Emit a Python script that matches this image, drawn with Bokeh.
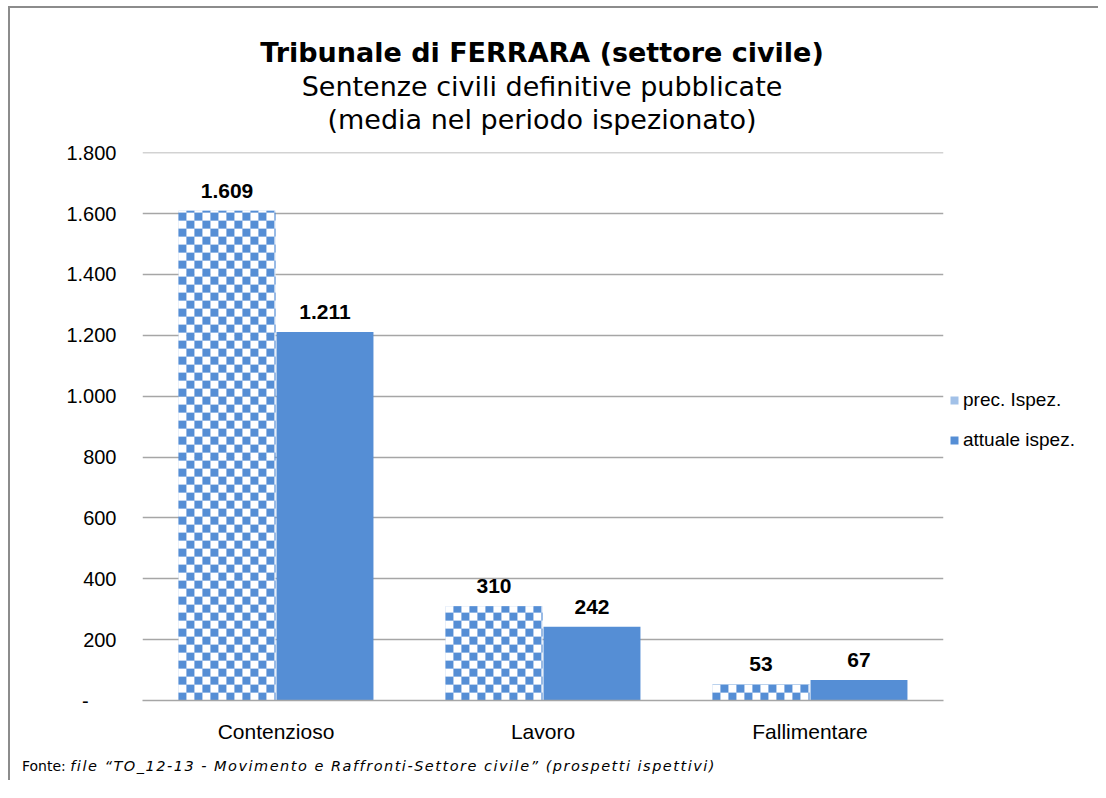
import math
from bokeh.plotting import figure
from bokeh.layouts import column, row
from bokeh.models import (ColumnDataSource, FactorRange, Range1d, LabelSet, Legend, LegendItem,
                          CustomJSTickFormatter, FixedTicker, Div)
from bokeh.transform import dodge
from bokeh.core.properties import value
from bokeh.embed import file_html
from bokeh.resources import INLINE

categories = ["Contenzioso", "Lavoro", "Fallimentare"]
prec_ispez = [1609, 310, 53]
attuale_ispez = [1211, 242, 67]
series_names = ["prec. Ispez.", "attuale ispez."]
y_ticks = [0, 200, 400, 600, 800, 1000, 1200, 1400, 1600, 1800]

title_1 = "Tribunale di FERRARA (settore civile)"
title_2 = "Sentenze civili definitive pubblicate"
title_3 = "(media nel periodo ispezionato)"
footer_1 = "Fonte:"
footer_2 = "file \u201cTO_12-13 - Movimento e Raffronti-Settore civile\u201d (prospetti ispettivi)"

BLUE = "#558ED5"
GRID = "#a6a6a6"
Y_MAX = 1800.5


def it_fmt(v):
    return f"{v:,}".replace(",", ".")


source = ColumnDataSource(dict(
    cat=categories,
    prec=prec_ispez,
    att=attuale_ispez,
    prec_lbl=[it_fmt(v) for v in prec_ispez],
    att_lbl=[it_fmt(v) for v in attuale_ispez],
))

# ---- layout geometry (pixels) ----
ML, MT, MR, MB = 132, 16, 5, 50
FRAME_W, FRAME_H = 801, 548
W, H = ML + FRAME_W + MR, MT + FRAME_H + MB
LEG_W = 150

p = figure(x_range=FactorRange(*categories), y_range=Range1d(0, Y_MAX),
           width=W, height=H, output_backend="svg", toolbar_location=None,
           min_border_left=ML, min_border_right=MR, min_border_top=MT, min_border_bottom=MB)
p.outline_line_color = None

OFF = 0.1835
BW = 0.363
bar_style_prec = dict(fill_color=BLUE, fill_alpha=0.55, line_color=None)
bar_style_att = dict(fill_color=BLUE, line_color=None)
p.vbar(x=dodge("cat", -OFF, range=p.x_range), top="prec", width=BW, source=source, **bar_style_prec)
p.vbar(x=dodge("cat", OFF, range=p.x_range), top="att", width=BW, source=source, **bar_style_att)

# checkerboard fill of the "prec. Ispez." bars (8px cells), derived from the bar values
CELL = 8
dx = CELL / (FRAME_W / len(categories))
dy = CELL * Y_MAX / FRAME_H
cl, cr, cb, ct, cc = [], [], [], [], []
for i, v in enumerate(prec_ispez):
    left = i + 0.5 - OFF - BW / 2
    right = left + BW
    ncol = math.ceil(BW / dx - 1e-9)
    nrow = math.ceil(v / dy - 1e-9)
    for j in range(ncol):
        for k in range(nrow):
            cl.append(left + j * dx)
            cr.append(min(left + (j + 1) * dx, right))
            cb.append(k * dy)
            ct.append(min((k + 1) * dy, v))
            cc.append(BLUE if (j + k) % 2 == 0 else "#ffffff")
p.quad(left=cl, right=cr, bottom=cb, top=ct, fill_color=cc, line_color=None)

for off, yfield, tfield in [(-OFF, "prec", "prec_lbl"), (OFF, "att", "att_lbl")]:
    ls = LabelSet(x=dodge("cat", off, range=p.x_range), y=yfield, text=tfield,
                  source=source, text_align="center", text_baseline="alphabetic", y_offset=13,
                  text_font=value("Liberation Sans"), text_font_style="bold",
                  text_font_size="21px", text_color="black")
    p.add_layout(ls)

# axes
p.yaxis.ticker = FixedTicker(ticks=y_ticks)
p.yaxis.formatter = CustomJSTickFormatter(code="""
if (tick == 0) { return '-' + '\\u00a0'.repeat(5); }
return Math.round(tick).toString().replace(/\\B(?=(\\d{3})+(?!\\d))/g, '.');
""")
p.yaxis.axis_line_color = None
p.yaxis.major_tick_line_color = None
p.yaxis.minor_tick_line_color = None
p.yaxis.major_tick_out = 0
p.yaxis.major_label_standoff = 26
p.yaxis.major_label_text_font = "Liberation Sans"
p.yaxis.major_label_text_font_size = "20px"
p.yaxis.major_label_text_color = "black"

p.xaxis.axis_line_color = GRID
p.xaxis.axis_line_width = 1.5
p.xaxis.major_tick_line_color = None
p.xaxis.minor_tick_line_color = None
p.xaxis.major_tick_out = 0
p.xaxis.major_label_standoff = 19
p.xaxis.major_label_text_font = "Liberation Sans"
p.xaxis.major_label_text_font_size = "21px"
p.xaxis.major_label_text_color = "black"

p.xgrid.grid_line_color = None
p.ygrid.grid_line_color = GRID
p.ygrid.grid_line_width = 1.5

# legend: a narrow companion figure (same height) whose frame holds the legend.
# Its proxy renderers reuse the data but lie far outside this figure's 0..1 range (not visible).
lf = figure(width=LEG_W, height=H, x_range=(0, 1), y_range=(0, 1), output_backend="svg",
            toolbar_location=None, x_axis_location=None, y_axis_location=None,
            min_border=0)
lf.outline_line_color = None
lf.grid.visible = False
lr1 = lf.vbar(x="prec", top="prec", width=0.1, source=source, **bar_style_prec)
lr2 = lf.vbar(x="att", top="att", width=0.1, source=source, **bar_style_att)
legend = Legend(items=[LegendItem(label=series_names[0], renderers=[lr1]),
                       LegendItem(label=series_names[1], renderers=[lr2])],
                location=(1, 249), orientation="vertical",
                glyph_width=10, glyph_height=10, label_height=20, spacing=18,
                label_standoff=4, padding=0, margin=0,
                label_text_font="Liberation Sans", label_text_font_size="19px",
                label_text_color="black",
                border_line_color=None, background_fill_alpha=0)
lf.add_layout(legend)

# titles and footer as HTML blocks above and below the figure
title_div = Div(
    text=(f'<div style="font-family: \'DejaVu Sans\'; font-size: 27px; line-height: 33.5px; '
          f'text-align: center; color: #000; padding-top: 28px; width: {2 * (ML + FRAME_W // 2)}px;">'
          f'<b>{title_1}</b><br>{title_2}<br>{title_3}</div>'),
    width=W + LEG_W, height=128, margin=0)
footer_div = Div(
    text=(f'<div style="font-family: \'DejaVu Sans\'; font-size: 14px; line-height: 16px; '
          f'color: #000; padding-top: 8px; padding-left: 12px; white-space: nowrap;">'
          f'{footer_1} <i style="font-size: 14.5px; letter-spacing: 1.5px;">{footer_2}</i></div>'),
    width=W + LEG_W, height=30, margin=0)

root = column(title_div, row(p, lf), footer_div, margin=(6, 0, 0, 8),
              styles={"border-left": "2px solid #8c8c8c", "border-top": "2px solid #8c8c8c"})

open("out.html", "w").write(file_html(root, INLINE))
